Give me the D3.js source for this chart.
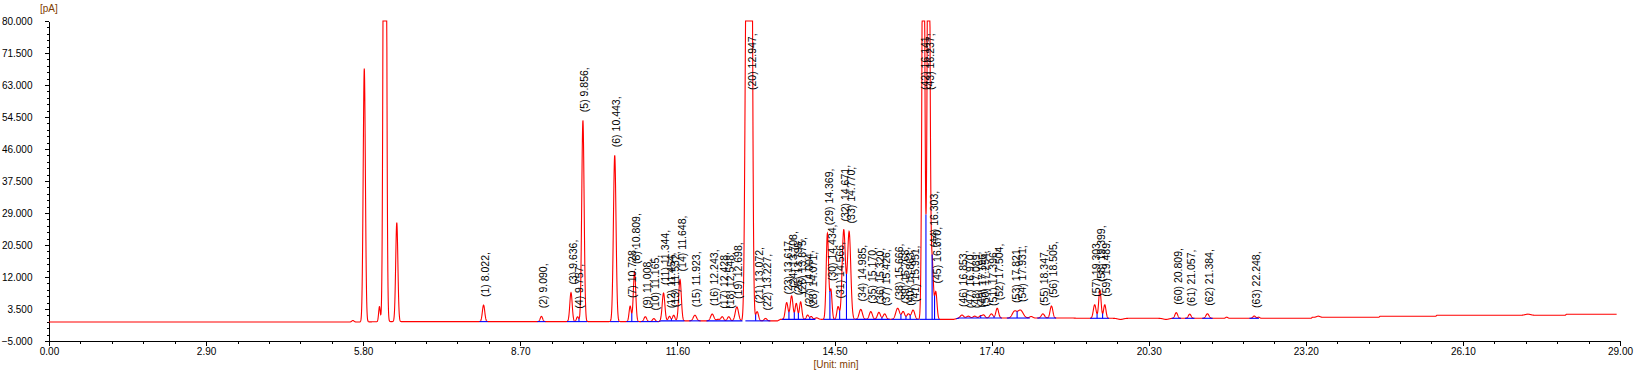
<!DOCTYPE html>
<html>
<head>
<meta charset="utf-8">
<script src="https://cdn.jsdelivr.net/npm/d3@7"></script>
<style>
body { margin: 0; background: #fff; }
svg { display: block; font-family: "Liberation Sans", Arial, sans-serif; }
</style>
</head>
<body>
<svg id="chart" width="1636" height="375"></svg>
<script>
// axis ticks
var xTicks = [0, 2.9, 5.8, 8.7, 11.6, 14.5, 17.4, 20.3, 23.2, 26.1, 29]
var yTicks = [-5, 3.5, 12, 20.5, 29, 37.5, 46, 54.5, 63, 71.5, 80]

// labelled peaks: retention time (min), height above baseline (pA), width sigma (min)
var peakTimes = [8.022, 9.090, 9.636, 9.757, 9.856, 10.443, 10.728, 10.809, 11.008, 11.165,
  11.344, 11.454, 11.532, 11.648, 11.923, 12.243, 12.428, 12.548, 12.698, 12.947,
  13.072, 13.227, 13.617, 13.708, 13.795, 13.875, 14.004, 14.071, 14.369, 14.434,
  14.566, 14.671, 14.770, 14.985, 15.170, 15.320, 15.426, 15.666, 15.768, 15.863,
  15.951, 16.141, 16.237, 16.303, 16.370, 16.853, 16.970, 17.089, 17.196, 17.254,
  17.396, 17.504, 17.821, 17.931, 18.347, 18.505, 19.303, 19.399, 19.489, 20.809,
  21.057, 21.384, 22.248]
var peakHeights = [4.4, 1.4, 7.7, 1.3, 53.5, 44.2, 4.1, 13.2, 1.3, 0.8,
  7.4, 1.2, 1.5, 11.0, 1.5, 1.8, 1.1, 1.1, 3.7, 250,
  2.45, 0.65, 4.45, 6.25, 4.25, 4.65, 1.15, 0.75, 22.85, 7.75,
  3.35, 23.75, 23.25, 2.65, 2.05, 1.85, 1.45, 2.95, 2.05, 1.45,
  2.45, 150, 150, 15.25, 7.25, 0.8, 0.5, 0.5, 0.6, 0.8,
  1.1, 2.6, 1.7, 2.1, 1.1, 3.2, 3.6, 7.5, 3.6, 1.5,
  1.1, 1.2, 0.6]
var peakWidths = [0.022, 0.022, 0.022, 0.02, 0.022, 0.024, 0.02, 0.022, 0.025, 0.025,
  0.024, 0.022, 0.022, 0.024, 0.03, 0.03, 0.025, 0.025, 0.03, 0.027,
  0.025, 0.025, 0.025, 0.025, 0.022, 0.022, 0.022, 0.022, 0.022, 0.02,
  0.022, 0.03, 0.03, 0.03, 0.028, 0.028, 0.028, 0.035, 0.028, 0.028,
  0.03, 0.022, 0.022, 0.022, 0.022, 0.03, 0.03, 0.03, 0.025, 0.025,
  0.03, 0.025, 0.04, 0.05, 0.03, 0.025, 0.025, 0.022, 0.022, 0.025,
  0.025, 0.028, 0.025]

// unlabelled peaks (solvent front, fronting shoulder, small bumps and dips)
var extraTimes = [5.61, 5.82, 6.10, 6.20, 6.42, 12.35, 12.875, 14.17, 18.13, 19.78, 20.62, 21.74, 22.33, 23.43, 27.30]
var extraHeights = [0.4, 67.3, 4.0, 300, 26.3, 0.4, 100, 0.4, 0.4, -0.3, -0.3, 0.3, 0.3, 0.3, 0.3]
var extraWidths = [0.02, 0.02, 0.015, 0.022, 0.02, 0.03, 0.025, 0.03, 0.03, 0.05, 0.05, 0.02, 0.02, 0.03, 0.05]

// baseline drift
var baseTimes = [0, 5.7, 6.3, 11.25, 11.3, 13.45, 13.5, 16.7, 16.8, 18.9, 19.0, 23.3, 23.32, 24.55, 24.57, 25.6, 25.62, 27.99, 28.01, 28.94]
var baseValues = [0.05, 0.05, 0.15, 0.15, 0.35, 0.35, 0.75, 0.75, 1.1, 1.1, 1.03, 1.03, 1.3, 1.3, 1.57, 1.57, 1.83, 1.83, 2.1, 2.1]

var svg = d3.select("#chart")
var x = d3.scaleLinear().domain([0, 29]).range([49, 1620])
var y = d3.scaleLinear().domain([-5, 80]).range([341, 21])
var base = d3.scaleLinear().domain(baseTimes).range(baseValues)

var peaks = peakTimes.map((t, i) => ({ no: i + 1, t: t, h: peakHeights[i], s: peakWidths[i] }))
var extras = extraTimes.map((t, i) => ({ t: t, h: extraHeights[i], s: extraWidths[i] }))
var allPeaks = peaks.concat(extras)

function signal(t) {
  var v = base(t)
  allPeaks.forEach(p => {
    var d = (t - p.t) / p.s
    if (Math.abs(d) < 8) v += p.h * Math.exp(-0.5 * d * d)
  })
  return v
}

var tEnd = baseTimes[baseTimes.length - 1]
var samples = d3.range(0, tEnd, 0.003).map(t => ({ t: t, v: Math.min(80, signal(t)) }))

// axes
svg.append("g")
  .attr("transform", "translate(49,0)")
  .call(d3.axisLeft(y).tickValues(yTicks).tickFormat(d3.format(".3f")).tickSize(4.5).tickSizeOuter(0).tickPadding(12))
var yMinor = []
for (var i = 0; i < yTicks.length - 1; i++)
  for (var k = 1; k < 5; k++) yMinor.push(yTicks[i] + k * (yTicks[i + 1] - yTicks[i]) / 5)
svg.append("g")
  .attr("transform", "translate(49,0)")
  .call(d3.axisLeft(y).tickValues(yMinor).tickFormat("").tickSize(2.5).tickSizeOuter(0))
  .select(".domain").remove()

svg.append("g")
  .attr("transform", "translate(0,341)")
  .call(d3.axisBottom(x).tickValues(xTicks).tickFormat(d3.format(".2f")).tickSize(5).tickSizeOuter(0).tickPadding(1.5))
var xMinor = []
for (var i = 0; i < xTicks.length - 1; i++)
  for (var k = 1; k < 5; k++) xMinor.push(xTicks[i] + k * (xTicks[i + 1] - xTicks[i]) / 5)
svg.append("g")
  .attr("transform", "translate(0,341)")
  .call(d3.axisBottom(x).tickValues(xMinor).tickFormat("").tickSize(3).tickSizeOuter(0))
  .select(".domain").remove()

svg.selectAll(".tick text").attr("font-size", 10).attr("font-family", "Liberation Sans, Arial, sans-serif").attr("fill", "#000")
svg.selectAll(".domain, .tick line").attr("stroke", "#000").attr("shape-rendering", "crispEdges")

svg.append("text").attr("x", 40).attr("y", 11.5).attr("font-size", 10).attr("fill", "#804000").text("[pA]")
svg.append("text").attr("x", 836).attr("y", 368).attr("text-anchor", "middle").attr("font-size", 10).attr("fill", "#804000").text("[Unit: min]")

// red trace
var line = d3.line().x(d => x(d.t)).y(d => y(d.v))
svg.append("path")
  .datum(samples)
  .attr("fill", "none")
  .attr("stroke", "#ff0000")
  .attr("stroke-width", 1.1)
  .attr("d", line)

// blue integration baselines
var segs = []
peaks.forEach(p => {
  var a = p.t - 3.5 * p.s, b = p.t + 3.5 * p.s
  var last = segs[segs.length - 1]
  if (last && a <= last[1]) last[1] = Math.max(last[1], b)
  else segs.push([a, b])
})
var baseLine = d3.line().x(d => x(d.t)).y(d => y(base(d.t)))
svg.append("g").selectAll("path")
  .data(segs)
  .enter().append("path")
  .attr("fill", "none")
  .attr("stroke", "#0000ff")
  .attr("stroke-width", 1.1)
  .attr("d", s => baseLine(samples.filter(d => d.t >= s[0] && d.t <= s[1])))

// blue drop lines at valleys between overlapping peaks
var drops = []
for (var i = 0; i < peaks.length - 1; i++) {
  var p = peaks[i], q = peaks[i + 1]
  if (q.t - p.t > 3.5 * (p.s + q.s)) continue
  var between = samples.filter(d => d.t > p.t && d.t < q.t)
  if (!between.length) continue
  var m = d3.least(between, d => d.v)
  if (m.v - base(m.t) > 0.4) drops.push(m)
}
svg.append("g").selectAll("line")
  .data(drops)
  .enter().append("line")
  .attr("x1", d => x(d.t)).attr("x2", d => x(d.t))
  .attr("y1", d => y(base(d.t))).attr("y2", d => y(d.v))
  .attr("stroke", "#0000ff")
  .attr("stroke-width", 1.1)

// peak labels
svg.append("g").selectAll("text")
  .data(peaks)
  .enter().append("text")
  .attr("transform", p => {
    var apex = y(Math.min(80, signal(p.t)))
    var bottom = Math.max(apex - 8, 90)
    return "translate(" + (x(p.t) + 5.5) + "," + bottom + ") rotate(-90)"
  })
  .attr("font-size", 10.5)
  .attr("fill", "#000")
  .text(p => "(" + p.no + ") " + p.t.toFixed(3) + ",")
</script>
</body>
</html>
